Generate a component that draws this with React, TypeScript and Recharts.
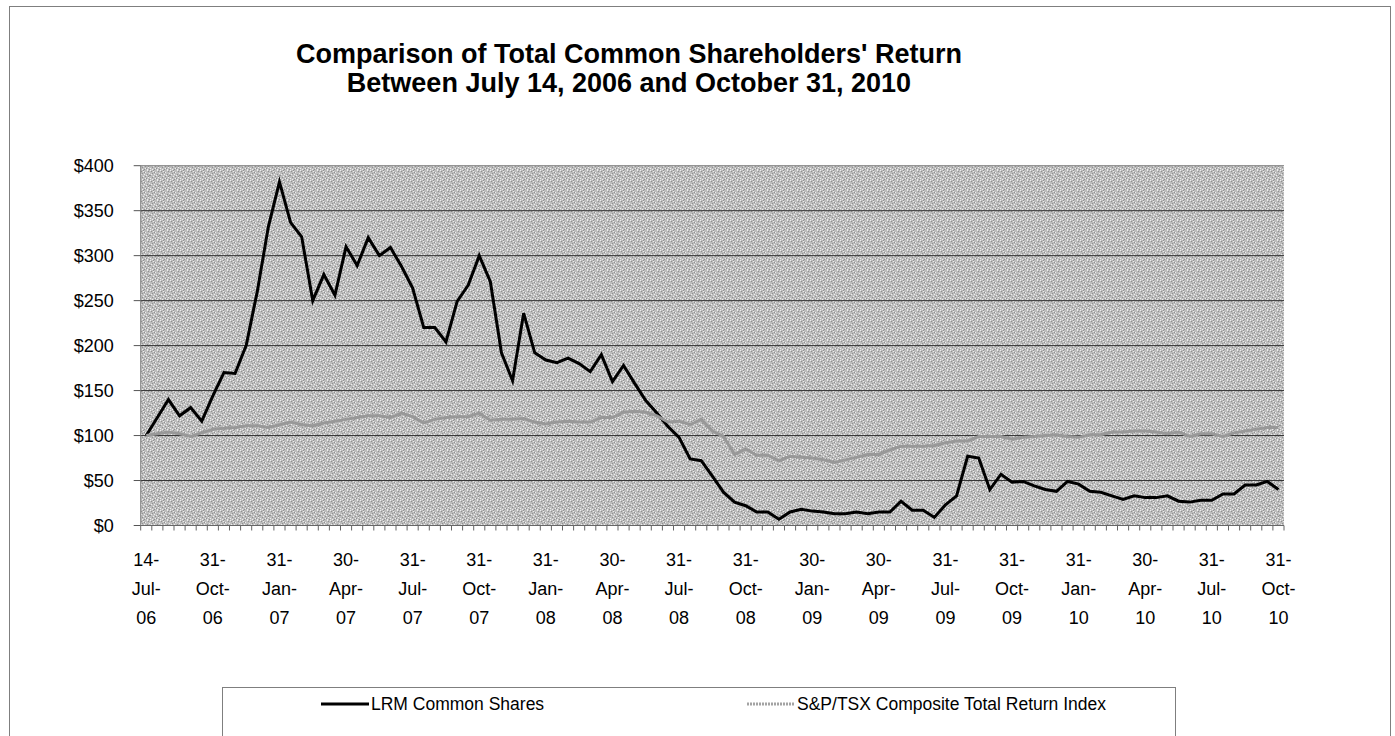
import { LineChart, Line, XAxis, YAxis, CartesianGrid, ReferenceLine } from 'recharts';

// semi-monthly observations, 14-Jul-06 .. 31-Oct-10 (value of $100 invested)
const lrmShares = [
    100, 120, 140, 122, 131, 116, 144, 170, 169, 200,
    260, 332, 382, 337, 321, 250, 279, 256, 310, 289,
    320, 300, 309, 288, 264, 220, 220, 204, 249, 267,
    300, 271, 192, 161, 236, 192, 184, 181, 186, 180,
    171, 190, 160, 178, 158, 139, 125, 110, 98, 74,
    72, 55, 37, 26, 22, 15, 15, 7, 15, 18,
    16, 15, 13, 13, 15, 13, 15, 15, 27, 17,
    17, 9, 23, 33, 77, 75, 40, 57, 48, 49,
    44, 40, 38, 49, 46, 38, 37, 33, 29, 33,
    31, 31, 33, 27, 26, 28, 28, 35, 35, 45,
    45, 49, 40,
];

const tsxIndex = [
    100, 102, 104, 102, 99, 103, 107, 108, 109, 111,
    111, 109, 112, 115, 112, 111, 114, 116, 118, 120,
    122, 122, 120, 125, 121, 114, 118, 120, 121, 121,
    125, 117, 118, 118, 119, 115, 113, 115, 116, 115,
    115, 120, 120, 126, 127, 126, 122, 115, 116, 112,
    118, 105, 99, 79, 85, 78, 78, 72, 77, 76,
    75, 73, 70, 73, 76, 79, 79, 84, 88, 88,
    88, 89, 92, 94, 94, 99, 99, 99, 96, 98,
    99, 100, 101, 99, 98, 101, 101, 104, 104, 105,
    105, 104, 102, 104, 99, 102, 102, 99, 103, 105,
    107, 109, 109,
];

// one label every 6th observation
const tickLabels = [
    '14-Jul-06', '31-Oct-06', '31-Jan-07', '30-Apr-07', '31-Jul-07', '31-Oct-07',
    '31-Jan-08', '30-Apr-08', '31-Jul-08', '31-Oct-08', '30-Jan-09', '30-Apr-09',
    '31-Jul-09', '31-Oct-09', '31-Jan-10', '30-Apr-10', '31-Jul-10', '31-Oct-10',
];
const LABEL_EVERY = 6;

const yTicks = [0, 50, 100, 150, 200, 250, 300, 350, 400];

const seriesNames = ['LRM Common Shares', 'S&P/TSX Composite Total Return Index'];

const data = lrmShares.map((v, i) => ({ period: i, lrm: v, tsx: tsxIndex[i] }));

const FONT = '"Liberation Sans", Arial, sans-serif';
const W = 1395;
const H = 736;
const M = { top: 165.7, right: 111, bottom: 110.5, left: 80.7 };
const Y_W = 60;
const X_H = 100;
const PLOT_W = W - M.left - Y_W - M.right;
const HALF = PLOT_W / data.length / 2;

// stipple texture of the plot area (light / dark pixels on a 10x10 grey tile)
const lightDots = [[0, 0], [3, 1], [7, 0], [5, 2], [9, 3], [1, 4], [6, 5], [3, 6], [8, 7], [0, 8], [5, 8], [2, 9], [7, 9], [4, 4]];
const darkDots = [[1, 1], [8, 1], [4, 2], [2, 3], [7, 4], [0, 5], [9, 5], [5, 6], [2, 7], [6, 8], [9, 9], [4, 9], [3, 0], [8, 6]];

const DateTick = (props: any) => {
    const { x, y, payload } = props;
    const i = payload.value as number;
    const parts = i % LABEL_EVERY === 0 ? tickLabels[i / LABEL_EVERY].split('-') : null;
    return (
        <g>
            <line x1={x - HALF} x2={x - HALF} y1={y} y2={y + 5} stroke="#666" />
            {i === data.length - 1 && <line x1={x + HALF} x2={x + HALF} y1={y} y2={y + 5} stroke="#666" />}
            {parts && (
                <text textAnchor="middle" fontSize={18} fontFamily={FONT} fill="#000">
                    {parts.map((p, k) => (
                        <tspan key={k} x={x} y={y + 40 + k * 29}>
                            {k < parts.length - 1 ? p + '-' : p}
                        </tspan>
                    ))}
                </text>
            )}
        </g>
    );
};

const App = () => {
    return (
        <div style={{ position: 'absolute', left: 0, top: 0, width: W, height: H, background: '#fff', fontFamily: FONT }}>
            <svg width={0} height={0} style={{ position: 'absolute' }}>
                <defs>
                    <pattern id="plotDots" width={10} height={10} patternUnits="userSpaceOnUse">
                        <rect width={10} height={10} fill="#bdbdbd" />
                        {lightDots.map(([px, py]) => (
                            <rect key={`l${px}-${py}`} x={px} y={py} width={1} height={1} fill="#eeeeee" />
                        ))}
                        {darkDots.map(([px, py]) => (
                            <rect key={`d${px}-${py}`} x={px} y={py} width={1} height={1} fill="#909090" />
                        ))}
                    </pattern>
                </defs>
            </svg>

            {/* outer frame */}
            <div style={{ position: 'absolute', left: 9, top: 6, width: 1382, height: 740, border: '1px solid #7f7f7f', boxSizing: 'border-box' }} />

            <div style={{ position: 'absolute', left: 129, top: 40, width: 1000, textAlign: 'center', fontWeight: 'bold', fontSize: 27, lineHeight: '29px', color: '#000' }}>
                Comparison of Total Common Shareholders' Return
                <br />
                Between July 14, 2006 and October 31, 2010
            </div>

            <div style={{ position: 'absolute', left: 0, top: 0 }}>
                <LineChart width={W} height={H} data={data} margin={M}>
                    <CartesianGrid
                        vertical={false}
                        horizontalValues={[50, 100, 150, 200, 250, 300, 350]}
                        stroke="#333"
                        fill="url(#plotDots)"
                        fillOpacity={1}
                    />
                    <XAxis
                        dataKey="period"
                        type="category"
                        interval={0}
                        height={X_H}
                        padding={{ left: HALF, right: HALF }}
                        tick={<DateTick />}
                        tickLine={false}
                        tickSize={0}
                        tickMargin={0}
                        axisLine={{ stroke: '#666' }}
                    />
                    <YAxis
                        width={Y_W}
                        domain={[0, 400]}
                        ticks={yTicks}
                        tickFormatter={(v: number) => `$${v}`}
                        tick={{ fill: '#000', fontSize: 18, fontFamily: FONT }}
                        tickSize={7}
                        tickMargin={20}
                        tickLine={{ stroke: '#555' }}
                        axisLine={{ stroke: '#808080' }}
                    />
                    <YAxis yAxisId="frame" orientation="right" width={0} domain={[0, 400]} tick={false} tickLine={false} axisLine={{ stroke: '#808080' }} />
                    <ReferenceLine y={400} stroke="#808080" />
                    <Line type="linear" dataKey="lrm" name={seriesNames[0]} stroke="#000" strokeWidth={3} dot={false} isAnimationActive={false} />
                    <Line type="linear" dataKey="tsx" name={seriesNames[1]} stroke="#989898" strokeWidth={3} dot={false} isAnimationActive={false} />
                </LineChart>
            </div>

            {/* legend box */}
            <div style={{ position: 'absolute', left: 222, top: 687, width: 954, height: 60, border: '1px solid #7f7f7f', boxSizing: 'border-box', background: '#fff' }}>
                {seriesNames.map((name, k) => (
                    <div key={name} style={{ position: 'absolute', left: k === 0 ? 98 : 524, top: 4, display: 'flex', alignItems: 'center', fontSize: 17.5, color: '#000', whiteSpace: 'nowrap' }}>
                        <svg width={48} height={24}>
                            <line x1={0} x2={48} y1={12} y2={12} stroke={k === 0 ? '#000' : '#a3a3a3'} strokeWidth={3} strokeDasharray={k === 0 ? undefined : '2 1'} />
                        </svg>
                        <span style={{ marginLeft: 2 }}>{name}</span>
                    </div>
                ))}
            </div>
        </div>
    );
};

export default App;
